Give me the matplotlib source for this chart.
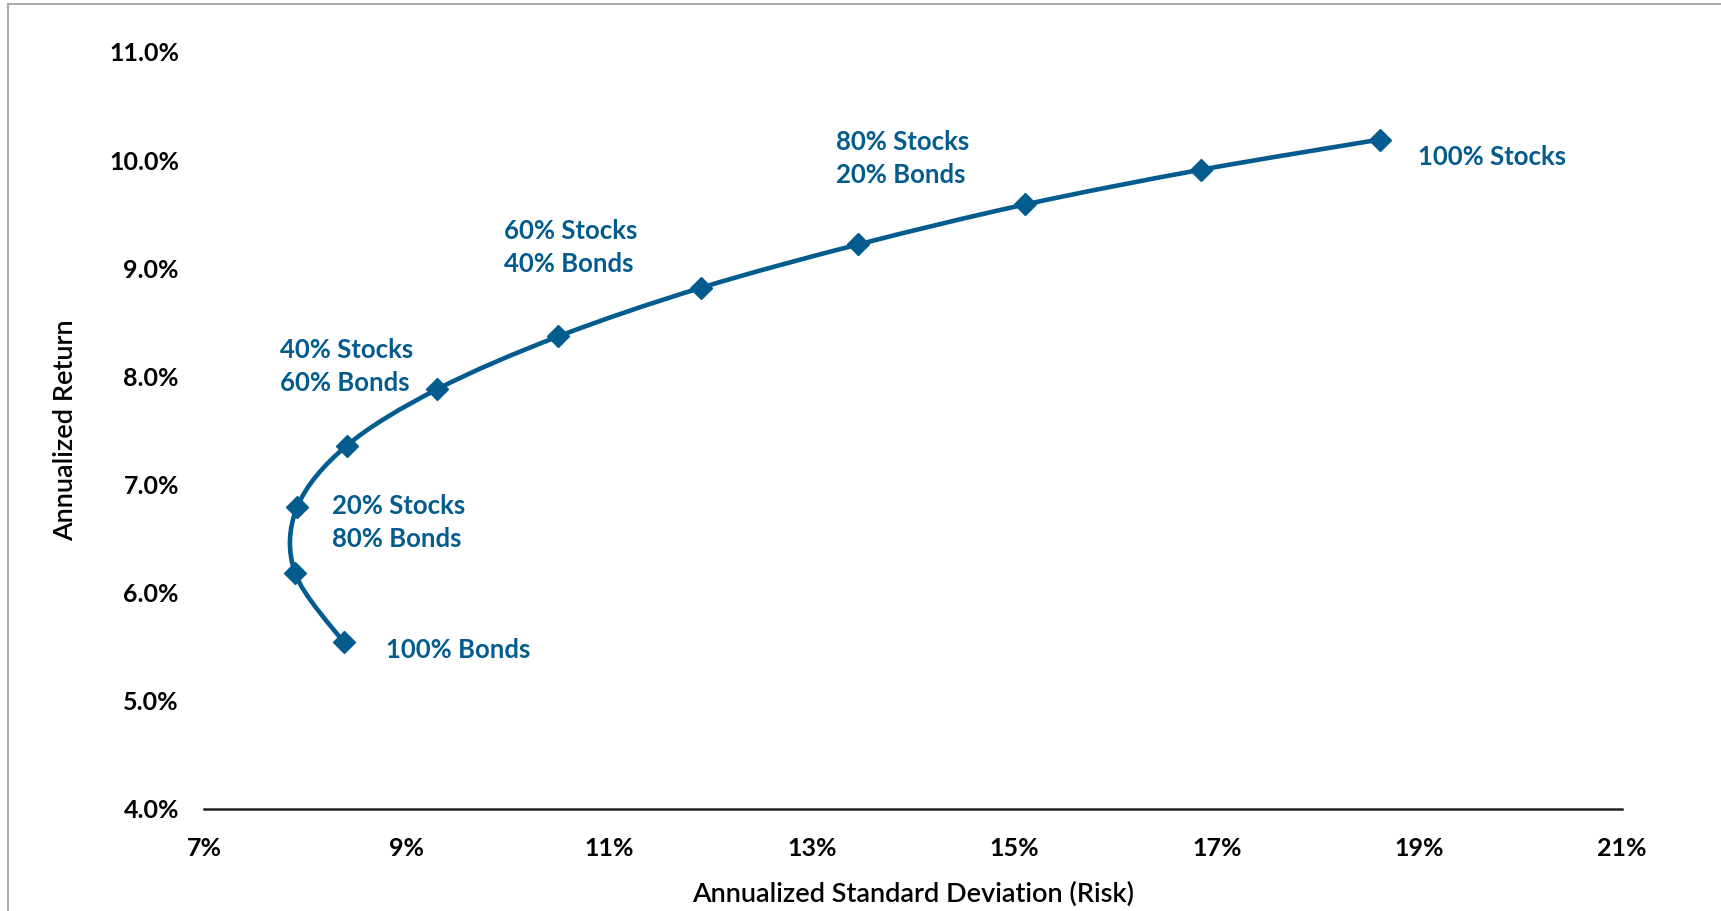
import numpy as np
import matplotlib.pyplot as plt
from matplotlib.path import Path
from matplotlib.patches import PathPatch, Rectangle
from matplotlib.ticker import FuncFormatter

plt.rcParams['font.family'] = ['Lato', 'DejaVu Sans']

# portfolio mixes, 0% .. 100% stocks
stocks_pct = [0, 10, 20, 30, 40, 50, 60, 70, 80, 90, 100]
risk = [8.38, 7.90, 7.92, 8.41, 9.30, 10.50, 11.91, 13.46, 15.11, 16.84, 18.61]
ret = [5.54, 6.18, 6.79, 7.36, 7.88, 8.37, 8.82, 9.22, 9.59, 9.91, 10.19]

labels = ["100% Bonds", "20% Stocks\n80% Bonds", "40% Stocks\n60% Bonds",
          "60% Stocks\n40% Bonds", "80% Stocks\n20% Bonds", "100% Stocks"]
label_pos = [(8.80, 5.47), (8.26, 6.65), (7.75, 8.09),
             (9.96, 9.19), (13.24, 10.01), (18.99, 10.03)]

blue = '#035b8e'

fig = plt.figure(figsize=(17.21, 9.11), dpi=100)
ax = fig.add_axes([0.1185, 0.112, 0.824, 0.831])

# smooth line through the points (excel style bezier)
pts = np.column_stack([risk, ret])
verts = [pts[0]]
codes = [Path.MOVETO]
for i in range(len(pts) - 1):
    p0 = pts[i - 1] if i > 0 else pts[i]
    p1 = pts[i]
    p2 = pts[i + 1]
    p3 = pts[i + 2] if i + 2 < len(pts) else pts[i + 1]
    verts += [p1 + (p2 - p0) / 6, p2 - (p3 - p1) / 6, p2]
    codes += [Path.CURVE4] * 3
ax.add_patch(PathPatch(Path(verts, codes), fill=False, edgecolor=blue, lw=3.3,
                       capstyle='round', zorder=2))
ax.plot(risk, ret, linestyle='none', marker='D', markersize=11, color=blue, zorder=3)

for txt, (x, y) in zip(labels, label_pos):
    ax.text(x, y, txt, color=blue, fontsize=18.5, fontweight='bold',
            ha='left', va='center', linespacing=1.45)

ax.set_xlim(7, 21)
ax.set_ylim(4, 11)
ax.set_xticks(np.arange(7, 22, 2))
ax.set_yticks(np.arange(4, 11.5, 1))
ax.xaxis.set_major_formatter(FuncFormatter(lambda v, p: f"{v:.0f}%"))
ax.yaxis.set_major_formatter(FuncFormatter(lambda v, p: f"{v:.1f}%"))
ax.tick_params(length=0, labelsize=18, pad=18)
ax.tick_params(axis='x', pad=20)
for lab in ax.get_xticklabels() + ax.get_yticklabels():
    lab.set_fontweight('bold')
for s in ['top', 'right', 'left']:
    ax.spines[s].set_visible(False)
ax.spines['bottom'].set_linewidth(1.8)
ax.spines['bottom'].set_color('#222222')

ax.set_xlabel("Annualized Standard Deviation (Risk)", fontsize=19.5,
              fontweight='semibold', labelpad=16)
ax.set_ylabel("Annualized Return", fontsize=19.5, fontweight='semibold',
              labelpad=22)

fig.patches.append(Rectangle((8 / 1721, -0.1), 1.2, 1 - 4 / 911 + 0.1,
                             transform=fig.transFigure, fill=False,
                             edgecolor='#aaaaaa', lw=1.5))

fig.savefig('out.png', dpi=100)
